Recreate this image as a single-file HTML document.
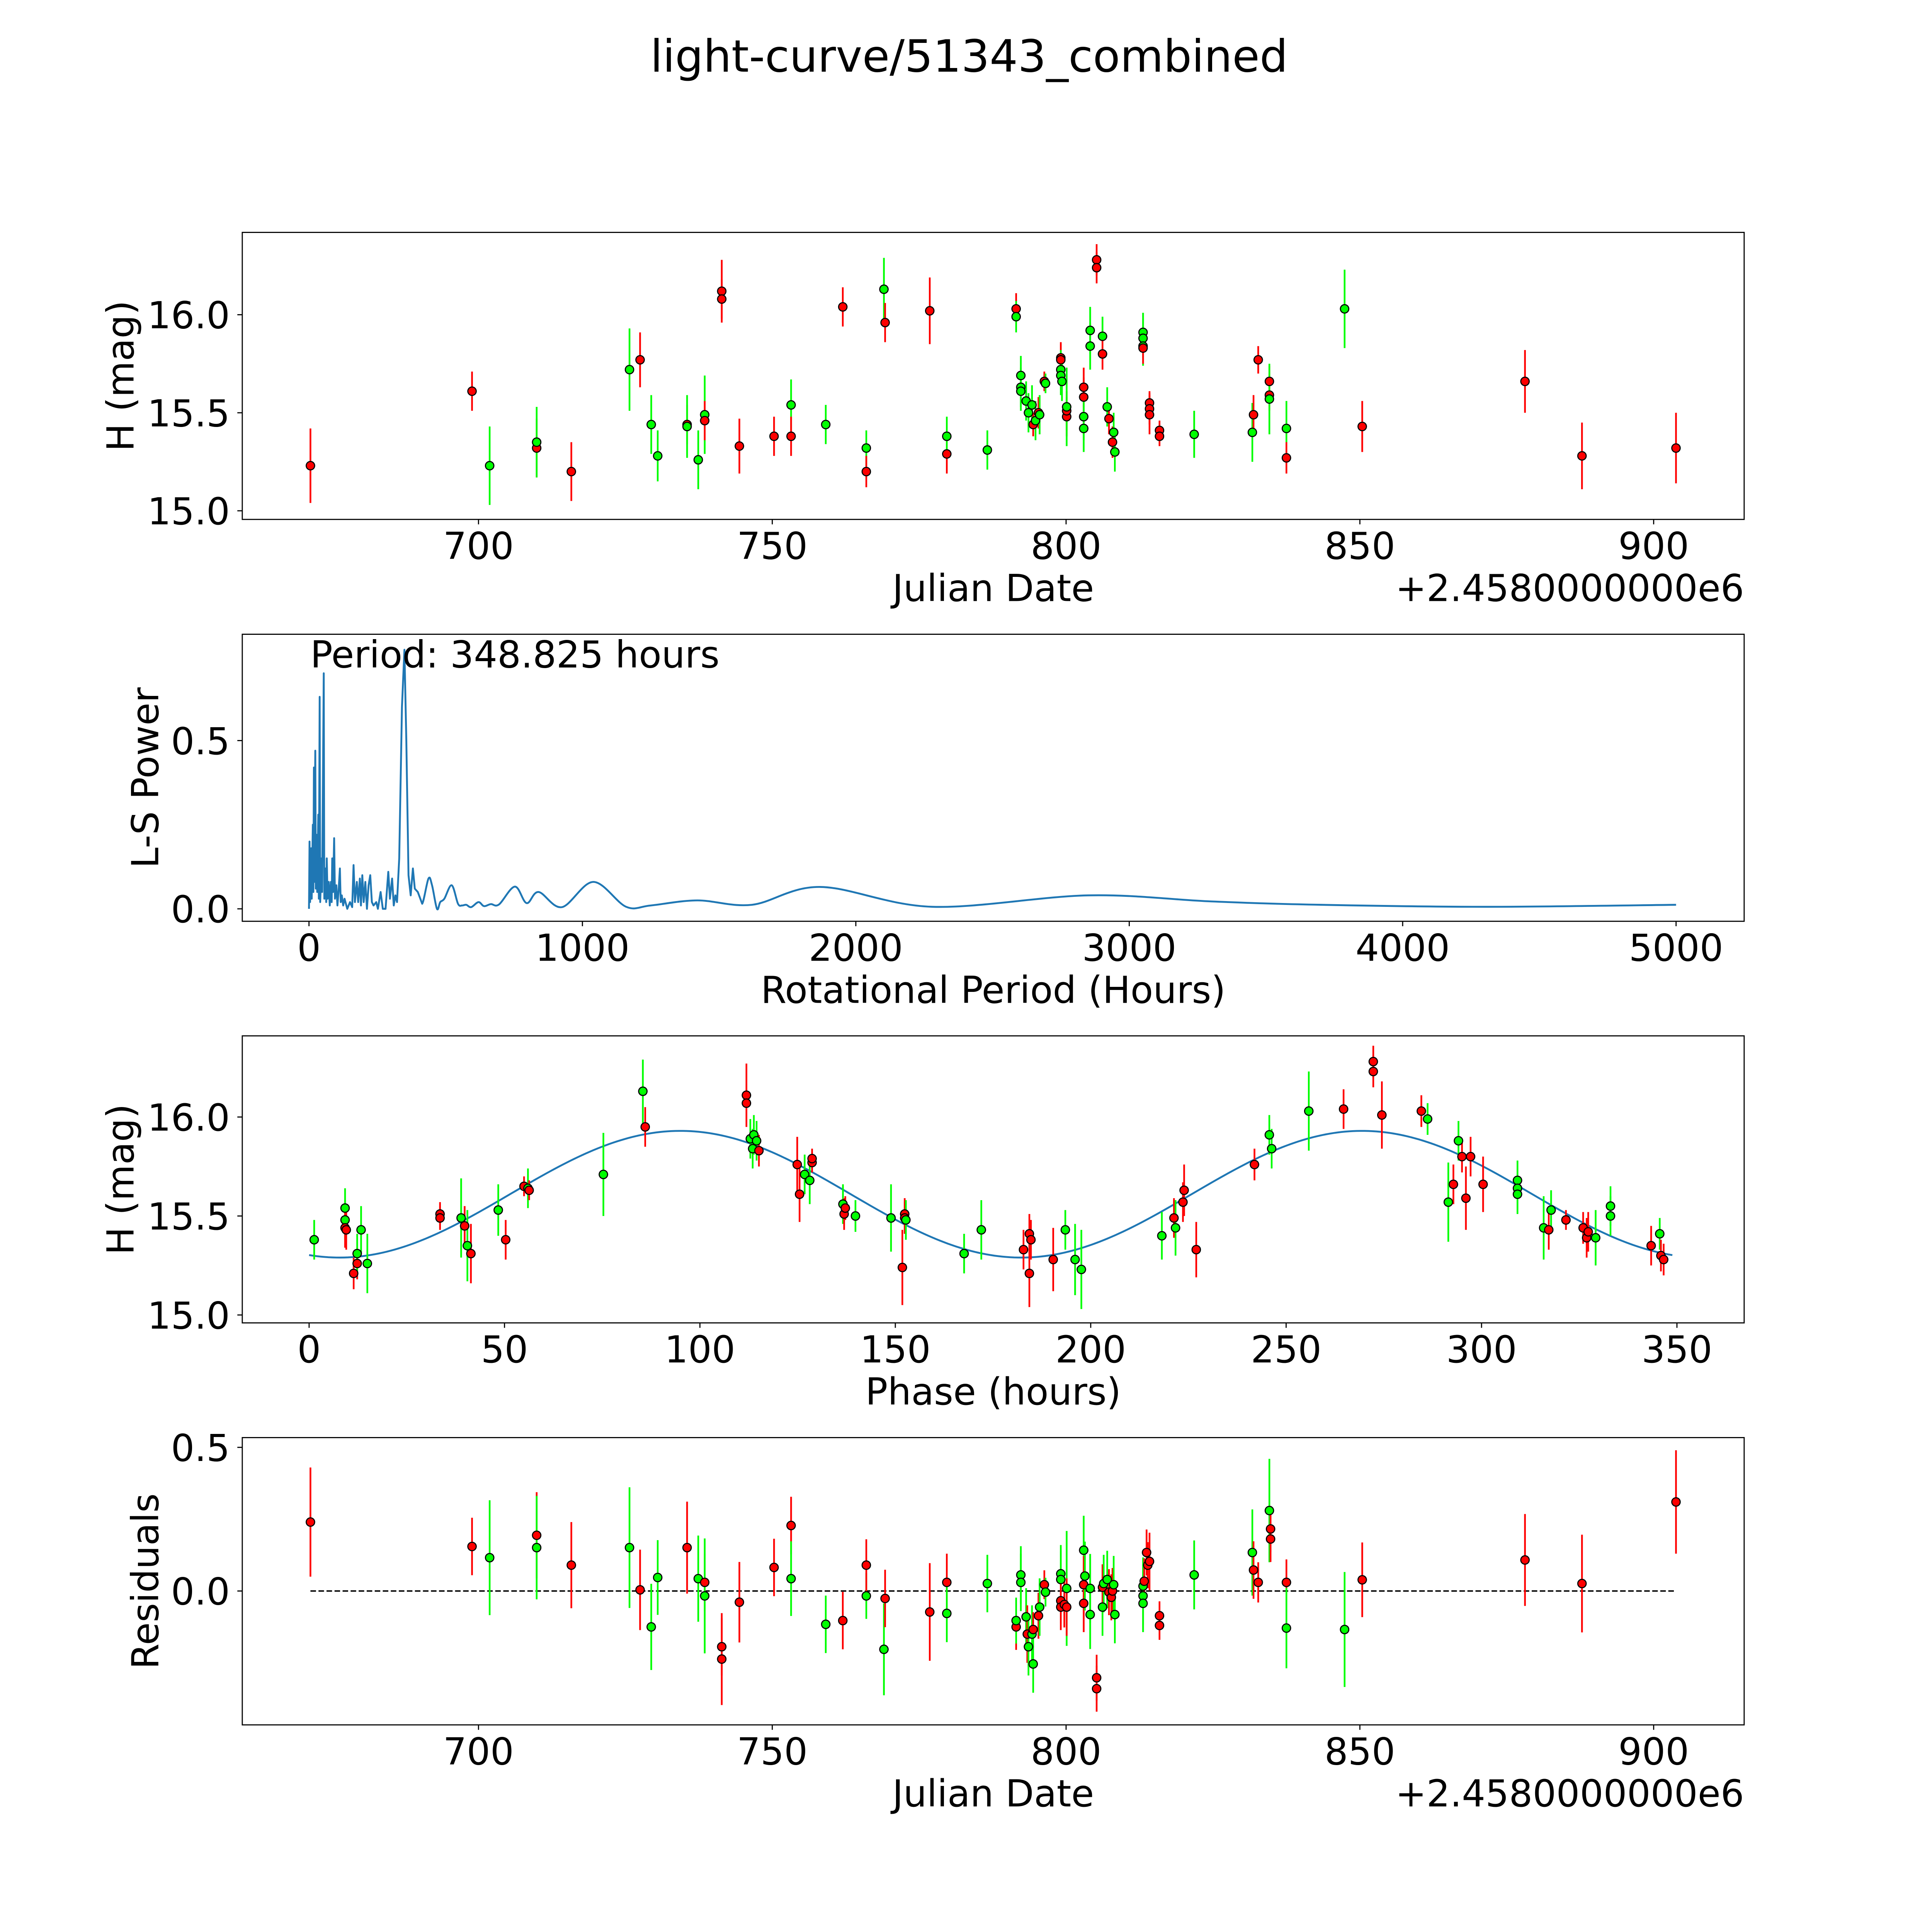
<!DOCTYPE html>
<html><head><meta charset="utf-8"><style>
html,body{margin:0;padding:0;background:#fff;width:5400px;height:5400px;overflow:hidden}
svg{display:block}
text{font-family:"DejaVu Sans","Liberation Sans",sans-serif;fill:#000}
</style></head><body>
<svg id="fig" xmlns="http://www.w3.org/2000/svg" width="5400" height="5400" viewBox="0 0 1688 1688">
<rect x="0" y="0" width="1688" height="1688" fill="#fff"/>
<text x="784" y="58" font-size="36" text-anchor="middle">light-curve/51343_combined</text>
</svg>
<script>
// ---------- Panel 1: light curve ----------
const lcDates=[671.4,698.9,701.9,709.9,709.9,715.8,725.7,727.5,729.4,730.5,735.5,735.5,737.4,738.5,738.5,741.4,741.4,744.4,750.3,753.2,753.2,759.1,762.0,766.0,766.0,769.0,769.2,776.8,779.7,779.7,786.6,791.5,791.5,792.3,792.3,792.3,793.2,793.6,794.2,794.4,794.8,795.3,795.5,796.3,796.5,799.1,799.1,799.1,799.1,799.3,800.1,800.1,800.1,803.0,803.0,803.0,803.0,804.1,804.1,805.2,805.2,806.2,806.2,807.0,807.3,807.9,808.1,808.3,813.1,813.1,813.1,813.1,814.2,814.2,814.2,815.9,815.9,821.8,831.7,831.9,832.7,834.6,834.6,834.6,837.5,837.5,847.4,850.4,878.1,887.8,903.8];
const lcMags=[15.23,15.61,15.23,15.32,15.35,15.20,15.72,15.77,15.44,15.28,15.44,15.43,15.26,15.49,15.46,16.12,16.08,15.33,15.38,15.54,15.38,15.44,16.04,15.32,15.20,16.13,15.96,16.02,15.29,15.38,15.31,16.03,15.99,15.69,15.63,15.61,15.56,15.50,15.54,15.44,15.46,15.50,15.49,15.66,15.65,15.78,15.77,15.72,15.69,15.66,15.48,15.51,15.53,15.63,15.58,15.48,15.42,15.92,15.84,16.28,16.24,15.89,15.80,15.53,15.47,15.35,15.40,15.30,15.91,15.88,15.84,15.83,15.55,15.52,15.49,15.41,15.38,15.39,15.40,15.49,15.77,15.66,15.59,15.57,15.42,15.27,16.03,15.43,15.66,15.28,15.32];
const lcErrs=[0.19,0.1,0.2,0.15,0.18,0.15,0.21,0.14,0.15,0.13,0.1,0.16,0.15,0.2,0.1,0.16,0.1,0.14,0.1,0.13,0.1,0.1,0.1,0.09,0.08,0.16,0.1,0.17,0.1,0.1,0.1,0.08,0.08,0.1,0.1,0.1,0.1,0.1,0.1,0.06,0.1,0.08,0.1,0.05,0.05,0.08,0.08,0.1,0.1,0.1,0.1,0.1,0.2,0.1,0.1,0.12,0.12,0.12,0.12,0.08,0.08,0.1,0.08,0.1,0.08,0.08,0.1,0.1,0.1,0.1,0.1,0.08,0.06,0.08,0.1,0.05,0.05,0.12,0.15,0.1,0.07,0.08,0.08,0.18,0.14,0.08,0.2,0.13,0.16,0.17,0.18];
const lcCols=["r","r","g","r","g","r","g","r","g","g","r","g","g","g","r","r","r","r","r","g","r","g","r","g","r","g","r","r","r","g","g","r","g","g","g","g","g","g","g","r","g","r","g","r","g","r","r","g","g","g","r","r","g","r","r","g","g","g","g","r","r","g","r","g","r","r","g","g","g","g","g","r","r","r","r","r","r","g","g","r","r","r","r","g","g","r","g","r","r","r","r"];
const lcXTicks=[700,750,800,850,900];
const lcYTicks=[15.0,15.5,16.0];

// ---------- Panel 2: periodogram ----------
const lsPeriods=[0,2,4,8,10,14,16,18,20,23,25,28,30,34,36,39,41,46,48,54,56,60,63,65,68,72,76,80,83,85,88,92,95,100,104,108,113,116,120,125,130,140,150,158,163,168,175,180,186,190,195,200,206,212,218,224,230,236,246,252,262,270,280,290,296,304,310,316,322,330,340,349,356,364,372,380,387,398,414,437,450,468,480,495,522,545,560,575,593,620,640,665,695,753,796,840,925,1040,1160,1250,1420,1620,1870,2280,2850,3300,3700,4300,5000];
const lsPowers=[0,0.2,0.02,0.18,0.03,0.25,0.05,0.42,0.08,0.47,0.06,0.22,0.05,0.28,0.03,0.63,0.02,0.15,0.05,0.70,0.03,0.12,0.02,0.15,0.03,0.08,0.01,0.08,0.02,0.15,0.05,0.21,0.03,0.07,0.01,0.05,0.12,0.02,0.04,0.01,0.03,0.0,0.02,0.005,0.13,0.02,0.08,0.02,0.09,0.01,0.1,0.02,0.08,0.0,0.07,0.1,0.02,0.01,0.02,0.0,0.05,0.0,0.0,0.11,0.03,0.09,0.01,0.04,0.02,0.15,0.6,0.77,0.5,0.1,0.04,0.12,0.06,0.05,0.015,0.09,0.07,0.0,0.02,0.03,0.07,0.015,0.01,0.012,0.005,0.02,0.008,0.014,0.013,0.066,0.017,0.05,0.005,0.08,0.006,0.01,0.025,0.012,0.065,0.006,0.04,0.022,0.012,0.006,0.012];
const lsXTicks=[0,1000,2000,3000,4000,5000];
const lsYTicks=[0.0,0.5];

// ---------- Panel 3: phased ----------
const phPhases=[1.3,9.2,9.2,9.2,9.5,11.4,12.3,12.3,13.3,14.9,33.5,33.5,38.9,39.8,40.5,41.4,48.4,50.3,55.0,56.0,56.3,75.3,85.4,86.0,111.9,111.9,112.9,113.5,113.8,114.5,115.1,124.9,125.5,126.8,128.1,128.7,128.7,136.6,136.9,137.2,139.8,148.9,152.4,152.4,152.7,151.8,167.6,172.0,182.8,184.3,184.7,184.3,190.4,193.5,196.0,197.6,218.2,221.3,221.7,223.6,223.9,227.0,241.9,245.7,246.3,255.8,264.7,272.3,272.3,274.5,284.6,286.2,291.5,292.8,294.1,295.0,296.0,297.2,300.4,309.2,309.2,309.2,315.9,317.2,317.8,321.6,326.0,326.9,327.3,329.2,333.0,333.0,343.4,345.6,345.9,346.6];
const phMags=[15.38,15.54,15.48,15.44,15.43,15.21,15.26,15.31,15.43,15.26,15.51,15.49,15.49,15.45,15.35,15.31,15.53,15.38,15.65,15.64,15.63,15.71,16.13,15.95,16.11,16.07,15.89,15.84,15.91,15.88,15.83,15.76,15.61,15.71,15.68,15.77,15.79,15.56,15.51,15.54,15.50,15.49,15.51,15.49,15.48,15.24,15.31,15.43,15.33,15.41,15.38,15.21,15.28,15.43,15.28,15.23,15.40,15.49,15.44,15.57,15.63,15.33,15.76,15.91,15.84,16.03,16.04,16.28,16.23,16.01,16.03,15.99,15.57,15.66,15.88,15.80,15.59,15.80,15.66,15.68,15.64,15.61,15.44,15.43,15.53,15.48,15.44,15.39,15.42,15.39,15.55,15.50,15.35,15.41,15.30,15.28];
const phErrs=[0.1,0.1,0.1,0.1,0.1,0.08,0.08,0.1,0.12,0.15,0.06,0.06,0.2,0.1,0.18,0.15,0.13,0.1,0.05,0.1,0.05,0.21,0.16,0.1,0.16,0.1,0.1,0.1,0.1,0.1,0.08,0.14,0.14,0.1,0.12,0.05,0.05,0.1,0.08,0.06,0.08,0.17,0.08,0.08,0.1,0.19,0.1,0.15,0.1,0.1,0.1,0.17,0.16,0.1,0.18,0.2,0.12,0.1,0.14,0.1,0.13,0.14,0.08,0.1,0.1,0.2,0.1,0.08,0.08,0.17,0.08,0.08,0.2,0.1,0.1,0.08,0.16,0.1,0.14,0.1,0.1,0.1,0.16,0.1,0.1,0.05,0.08,0.1,0.1,0.14,0.1,0.1,0.1,0.08,0.08,0.08];
const phCols=["g","g","g","r","r","r","r","g","g","g","r","r","g","r","g","r","g","r","r","g","r","g","g","r","r","r","g","g","g","g","r","r","r","g","g","r","r","g","r","r","g","g","r","r","g","r","g","g","r","r","r","r","r","g","g","g","g","r","g","r","r","r","r","g","g","g","r","r","r","r","r","g","g","r","g","r","r","r","r","g","g","g","g","r","g","r","r","r","r","g","g","g","r","g","r","r"];
const fitMean=[15.61];
const fitAmp=[0.32];
const fitPeakPhase=[95];
const fitHalfPeriod=[174.4];
const phXTicks=[0,50,100,150,200,250,300,350];
const phYTicks=[15.0,15.5,16.0];

// ---------- Panel 4: residuals ----------
const resDates=[671.4,698.9,701.9,709.9,709.9,715.8,725.7,727.5,729.4,730.5,735.5,737.4,738.5,738.5,741.4,741.4,744.4,750.3,753.2,753.2,759.1,762.0,766.0,766.0,769.0,769.2,776.8,779.7,779.7,786.6,791.5,791.5,792.3,792.3,793.2,793.4,793.6,794.2,794.4,794.4,795.3,795.5,796.3,796.5,799.1,799.1,799.1,799.1,799.7,800.1,800.1,803.0,803.0,803.0,803.2,804.1,804.1,805.2,805.2,806.2,806.2,806.4,807.0,807.3,807.7,807.9,808.1,808.3,813.1,813.1,813.1,813.3,813.7,813.9,814.2,815.9,815.9,821.8,831.7,831.9,832.7,834.6,834.8,834.8,837.5,837.5,847.4,850.4,878.1,887.8,903.8];
const resVals=[0.24,0.155,0.116,0.194,0.151,0.09,0.151,0.004,-0.125,0.047,0.151,0.043,0.03,-0.017,-0.194,-0.237,-0.039,0.082,0.228,0.043,-0.116,-0.103,-0.017,0.09,-0.203,-0.026,-0.073,0.03,-0.078,0.026,-0.125,-0.103,0.056,0.03,-0.09,-0.15,-0.194,-0.15,-0.134,-0.254,-0.086,-0.056,0.022,-0.004,0.06,0.04,-0.034,-0.056,-0.047,0.009,-0.056,0.142,0.022,-0.043,0.052,-0.082,0.009,-0.302,-0.34,-0.056,0.013,0.026,0.04,-0.004,-0.022,0,0.022,-0.082,0.017,-0.017,-0.043,0.034,0.134,0.09,0.103,-0.086,-0.12,0.056,0.134,0.073,0.03,0.28,0.216,0.181,0.03,-0.129,-0.134,0.039,0.108,0.026,0.31];
const resErrs=[0.19,0.1,0.2,0.15,0.18,0.15,0.21,0.14,0.15,0.13,0.16,0.15,0.1,0.2,0.1,0.16,0.14,0.1,0.1,0.13,0.1,0.1,0.08,0.09,0.16,0.1,0.17,0.1,0.1,0.1,0.08,0.08,0.1,0.1,0.1,0.1,0.1,0.1,0.06,0.1,0.08,0.1,0.05,0.05,0.1,0.1,0.08,0.08,0.08,0.2,0.1,0.12,0.1,0.1,0.12,0.12,0.12,0.08,0.08,0.1,0.08,0.1,0.1,0.08,0.08,0.08,0.1,0.1,0.1,0.1,0.1,0.08,0.08,0.08,0.1,0.05,0.05,0.12,0.15,0.1,0.07,0.18,0.08,0.08,0.08,0.14,0.2,0.13,0.16,0.17,0.18];
const resCols=["r","r","g","r","g","r","g","r","g","g","r","g","r","g","r","r","r","r","r","g","g","r","g","r","g","r","r","r","g","g","r","g","g","g","g","r","g","g","r","g","r","g","r","g","g","g","r","r","r","g","r","g","r","r","g","g","g","r","r","g","r","g","g","r","r","r","g","g","g","g","g","r","r","r","r","r","r","g","g","r","r","g","r","r","r","g","g","r","r","r","r"];
const resXTicks=[700,750,800,850,900];
const resYTicks=[0.0,0.5];

const NS="http://www.w3.org/2000/svg";
const fig=document.getElementById('fig');
function el(tag,attrs,parent){const e=document.createElementNS(NS,tag);for(const k in attrs)e.setAttribute(k,attrs[k]);(parent||fig).appendChild(e);return e;}
const COL={r:"#ff0000",g:"#00ff00"};
const L=196,R=1411;

function makeAxis(name,top,bot,xmin,xmax,ymin,ymax){
  const g=el('g',{});
  
  
  return {g,top,bot,
    sx:v=>L+(v-xmin)/(xmax-xmin)*(R-L),
    sy:v=>bot-(v-ymin)/(ymax-ymin)*(bot-top)};
}
function frame(ax){
  const r=el('rect',{x:L,y:ax.top,width:R-L,height:ax.bot-ax.top,fill:'none',stroke:'#000','stroke-width':0.9},ax.g);
  
  
}
function xticks(ax,ticks,fmt,label,offset){
  ticks.forEach(t=>{
    const x=ax.sx(t);
    el('line',{x1:x,x2:x,y1:ax.bot,y2:ax.bot+4,stroke:'#000','stroke-width':0.9},ax.g);
    const tx=el('text',{x:x,y:ax.bot+32,'font-size':30,'text-anchor':'middle'},ax.g);
    tx.textContent=fmt(t);
    
    
  });
  const lb=el('text',{x:(L+R)/2,y:ax.bot+66,'font-size':30,'text-anchor':'middle'},ax.g);
  lb.textContent=label;
  
  
  if(offset){
    const o=el('text',{x:R,y:ax.bot+66,'font-size':30,'text-anchor':'end'},ax.g);
    o.textContent=offset;
    
    
  }
}
function yticks(ax,ticks,fmt,label,lx){
  ticks.forEach(t=>{
    const y=ax.sy(t);
    el('line',{x1:L-4,x2:L,y1:y,y2:y,stroke:'#000','stroke-width':0.9},ax.g);
    const tx=el('text',{x:L-10,y:y+11,'font-size':30,'text-anchor':'end'},ax.g);
    tx.textContent=fmt(t);
    
    
  });
  const cy=(ax.top+ax.bot)/2;
  const lb=el('text',{x:lx,y:cy,'font-size':30,'text-anchor':'middle',transform:`rotate(-90 ${lx} ${cy})`},ax.g);
  lb.textContent=label;
  
  
}
function errPoints(ax,xs,ys,es,cs,nm){
  const gb=el('g',{},ax.g);
  for(let i=0;i<xs.length;i++){
    const x=ax.sx(xs[i]);
    const ln=el('line',{x1:x,x2:x,y1:ax.sy(ys[i]-es[i]),y2:ax.sy(ys[i]+es[i]),stroke:COL[cs[i]],'stroke-width':1.4},gb);
    
    
  }
  for(let i=0;i<xs.length;i++){
    const c=el('circle',{cx:ax.sx(xs[i]),cy:ax.sy(ys[i]),r:3.4,fill:COL[cs[i]],stroke:'#000','stroke-width':0.9},gb);
    
    
  }
}
const f1=v=>v.toFixed(1);
const f0=v=>String(v);

// Panel 1
const a1=makeAxis('light-curve-panel',188,420.2,659.8,915.4,14.956,16.42);
errPoints(a1,lcDates,lcMags,lcErrs,lcCols,'light-curve');
frame(a1);
xticks(a1,lcXTicks,f0,'Julian Date','+2.4580000000e6');
yticks(a1,lcYTicks,f1,'H (mag)',108);

// Panel 2
const a2=makeAxis('periodogram-panel',513.1,745.3,-244,5249,-0.037,0.816);
{
  const px=lsPeriods.map(p=>a2.sx(p)), py=lsPowers.map(v=>a2.sy(v));
  let d='M'+px[0].toFixed(2)+','+py[0].toFixed(2);
  for(let i=1;i<px.length;i++){
    if(lsPeriods[i-1]<400){d+='L'+px[i].toFixed(2)+','+py[i].toFixed(2);continue;}
    const i0=Math.max(0,i-2),i3=Math.min(px.length-1,i+1);
    const c1x=px[i-1]+(px[i]-px[i0])/6, c1y=py[i-1]+(py[i]-py[i0])/6;
    const c2x=px[i]-(px[i3]-px[i-1])/6, c2y=py[i]-(py[i3]-py[i-1])/6;
    d+='C'+c1x.toFixed(2)+','+c1y.toFixed(2)+' '+c2x.toFixed(2)+','+c2y.toFixed(2)+' '+px[i].toFixed(2)+','+py[i].toFixed(2);
  }
  const pl=el('path',{d:d,fill:'none',stroke:'#1f77b4','stroke-width':1.5,'stroke-linejoin':'round'},a2.g);
  
  
}
frame(a2);
xticks(a2,lsXTicks,f0,'Rotational Period (Hours)');
yticks(a2,lsYTicks,f1,'L-S Power',128);
{
  const t=el('text',{x:251,y:540,'font-size':30},a2.g);
  t.textContent='Period: 348.825 hours';
  
  
}

// Panel 3
const a3=makeAxis('phased-panel',838,1070.2,-17.1,367.2,14.96,16.41);
{
  let d='';
  for(let k=0;k<=350;k++){
    const ph=k*348.825/350;
    const m=fitMean[0]+fitAmp[0]*Math.cos(2*Math.PI*(ph-fitPeakPhase[0])/fitHalfPeriod[0]);
    d+=(k?'L':'M')+a3.sx(ph).toFixed(2)+','+a3.sy(m).toFixed(2);
  }
  const pl=el('path',{d:d,fill:'none',stroke:'#1f77b4','stroke-width':1.5},a3.g);
  
  
}
errPoints(a3,phPhases,phMags,phErrs,phCols,'phased');
frame(a3);
xticks(a3,phXTicks,f0,'Phase (hours)');
yticks(a3,phYTicks,f1,'H (mag)',108);

// Panel 4
const a4=makeAxis('residuals-panel',1163,1395.4,659.8,915.4,-0.466,0.534);
{
  const ln=el('line',{x1:a4.sx(Math.min(...resDates)),x2:a4.sx(Math.max(...resDates)),y1:a4.sy(0),y2:a4.sy(0),stroke:'#000','stroke-width':1.2,'stroke-dasharray':'4.5,2'},a4.g);
  
  
}
errPoints(a4,resDates,resVals,resErrs,resCols,'residual');
frame(a4);
xticks(a4,resXTicks,f0,'Julian Date','+2.4580000000e6');
yticks(a4,resYTicks,f1,'Residuals',128);
</script>
</body></html>
